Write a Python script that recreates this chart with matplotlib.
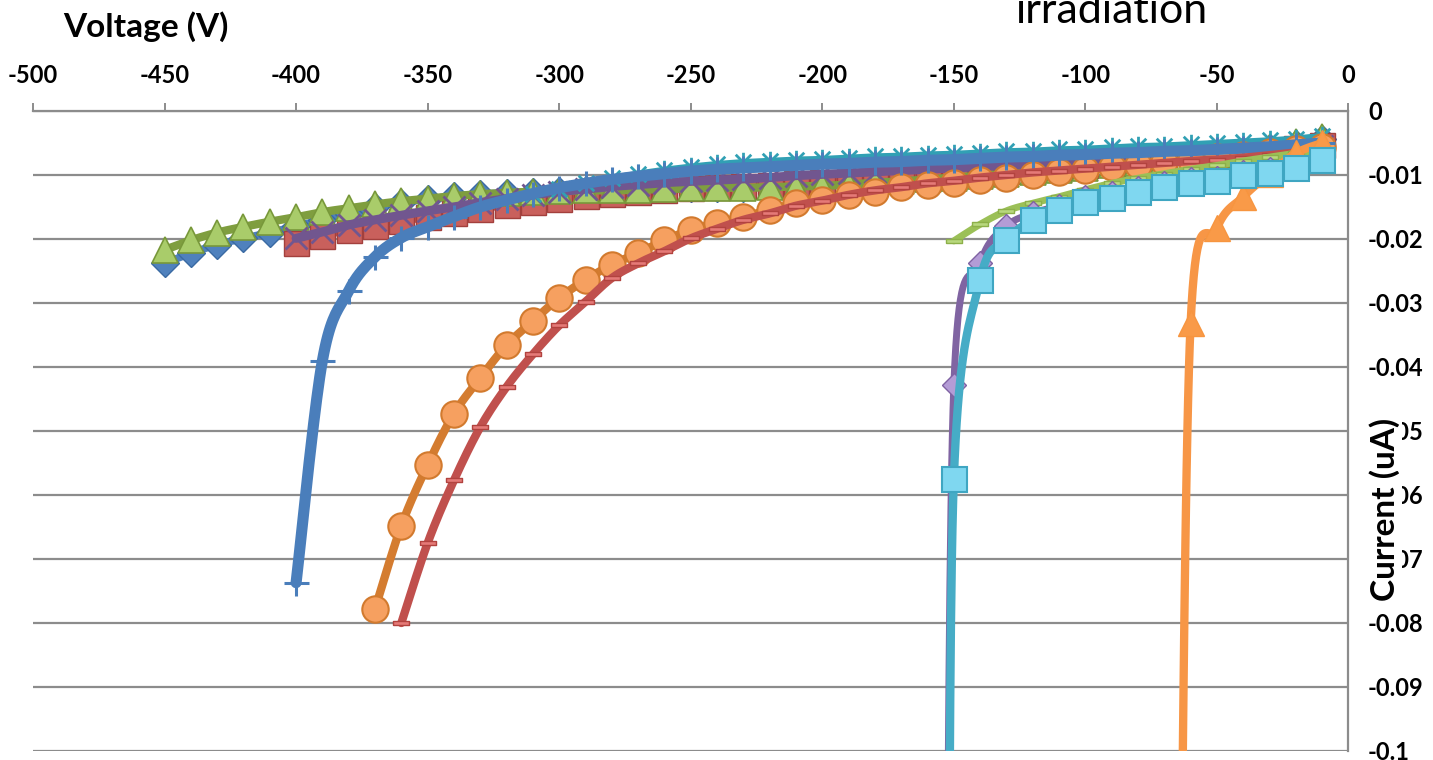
import numpy as np
import matplotlib
matplotlib.use("Agg")
import matplotlib.pyplot as plt
from matplotlib.path import Path

plt.rcParams['font.family'] = ['Lato', 'DejaVu Sans']

# ---------------- data ----------------
volt_450 = [-450, -440, -430, -420, -410, -400, -390, -380, -370, -360, -350, -340, -330, -320, -310,
            -300, -290, -280, -270, -260, -250, -240, -230, -220, -210, -200, -190, -180, -170, -160,
            -150, -140, -130, -120, -110, -100, -90, -80, -70, -60, -50, -40, -30, -20, -10]
volt_400 = [-400, -390, -380, -370, -360, -350, -340, -330, -320, -310,
            -300, -290, -280, -270, -260, -250, -240, -230, -220, -210, -200, -190, -180, -170, -160,
            -150, -140, -130, -120, -110, -100, -90, -80, -70, -60, -50, -40, -30, -20, -10]
volt_370 = [-370, -360, -350, -340, -330, -320, -310,
            -300, -290, -280, -270, -260, -250, -240, -230, -220, -210, -200, -190, -180, -170, -160,
            -150, -140, -130, -120, -110, -100, -90, -80, -70, -60, -50, -40, -30, -20, -10]
volt_360 = [-360, -350, -340, -330, -320, -310,
            -300, -290, -280, -270, -260, -250, -240, -230, -220, -210, -200, -190, -180, -170, -160,
            -150, -140, -130, -120, -110, -100, -90, -80, -70, -60, -50, -40, -30, -20, -10]
volt_310 = [-310, -300, -290, -280, -270, -260, -250, -240, -230, -220, -210, -200, -190, -180, -170, -160,
            -150, -140, -130, -120, -110, -100, -90, -80, -70, -60, -50, -40, -30, -20, -10]
volt_150 = [-150, -140, -130, -120, -110, -100, -90, -80, -70, -60, -50, -40, -30, -20, -10]
volt_s10 = [-153, -150, -140, -130, -120, -110, -100, -90, -80, -70, -60, -50, -40, -30, -20, -10]
volt_s11 = [-152, -150, -140, -130, -120, -110, -100, -90, -80, -70, -60, -50, -40, -30, -20, -10]
volt_s12 = [-64, -60, -50, -40, -30, -20, -10]

cur_s1 = [-0.0238, -0.0222, -0.0209, -0.0199, -0.0190, -0.0180, -0.0170, -0.0161, -0.0150, -0.0143,
          -0.0138, -0.0133, -0.0130, -0.0128, -0.0126, -0.0125, -0.0124, -0.0124, -0.0123, -0.0122,
          -0.0121, -0.0120, -0.0120, -0.0119, -0.0118, -0.0117, -0.0115, -0.0112, -0.0110, -0.0107,
          -0.0104, -0.0101, -0.0098, -0.0095, -0.0092, -0.0089, -0.0085, -0.0081, -0.0077, -0.0073,
          -0.0068, -0.0063, -0.0058, -0.0051, -0.0044]
cur_s2 = [-0.0206, -0.0195, -0.0186, -0.0179, -0.0172, -0.0166, -0.0160, -0.0153, -0.0147, -0.0142,
          -0.0137, -0.0133, -0.0130, -0.0127, -0.0124, -0.0121, -0.0119, -0.0117, -0.0115, -0.0113,
          -0.0111, -0.0109, -0.0107, -0.0105, -0.0102, -0.0099, -0.0096, -0.0093, -0.0090, -0.0087,
          -0.0084, -0.0081, -0.0078, -0.0075, -0.0072, -0.0069, -0.0066, -0.0062, -0.0058, -0.0053]
cur_s3 = [-0.0217, -0.0202, -0.0190, -0.0181, -0.0173, -0.0166, -0.0158, -0.0152, -0.0146, -0.0141,
          -0.0137, -0.0133, -0.0130, -0.0128, -0.0126, -0.0125, -0.0124, -0.0124, -0.0123, -0.0122,
          -0.0121, -0.0120, -0.0120, -0.0119, -0.0118, -0.0117, -0.0115, -0.0112, -0.0110, -0.0107,
          -0.0104, -0.0101, -0.0098, -0.0095, -0.0092, -0.0089, -0.0085, -0.0081, -0.0077, -0.0073,
          -0.0068, -0.0063, -0.0057, -0.0049, -0.0040]
cur_s4 = [-0.0199, -0.0189, -0.0178, -0.0170, -0.0163, -0.0156, -0.0150, -0.0143, -0.0137, -0.0131,
          -0.0126, -0.0122, -0.0118, -0.0115, -0.0112, -0.0110, -0.0108, -0.0106, -0.0104, -0.0101,
          -0.0099, -0.0097, -0.0095, -0.0093, -0.0091, -0.0089, -0.0087, -0.0085, -0.0083, -0.0081,
          -0.0079, -0.0077, -0.0075, -0.0073, -0.0071, -0.0069, -0.0067, -0.0064, -0.0060, -0.0055]
cur_s5 = [-0.0130, -0.0122, -0.0113, -0.0105, -0.0098, -0.0092, -0.0087, -0.0083, -0.0080, -0.0078,
          -0.0076, -0.0075, -0.0073, -0.0071, -0.0070, -0.0068, -0.0067, -0.0065, -0.0063, -0.0062,
          -0.0060, -0.0059, -0.0057, -0.0055, -0.0054, -0.0052, -0.0050, -0.0048, -0.0046, -0.0043,
          -0.0039]
cur_s6 = [-0.0778, -0.0648, -0.0553, -0.0473, -0.0417, -0.0366, -0.0328, -0.0292, -0.0264, -0.0240,
          -0.0222, -0.0202, -0.0186, -0.0175, -0.0165, -0.0155, -0.0144, -0.0139, -0.0131, -0.0126,
          -0.0119, -0.0116, -0.0112, -0.0108, -0.0104, -0.0100, -0.0096, -0.0092, -0.0088, -0.0084,
          -0.0080, -0.0077, -0.0072, -0.0068, -0.0064, -0.0060, -0.0056]
cur_s7 = [-0.0737, -0.0390, -0.0281, -0.0228, -0.0198, -0.0181, -0.0165, -0.0150, -0.0139, -0.0129,
          -0.0120, -0.0113, -0.0107, -0.0102, -0.0098, -0.0094, -0.0091, -0.0089, -0.0087, -0.0085,
          -0.0083, -0.0082, -0.0080, -0.0079, -0.0077, -0.0076, -0.0074, -0.0072, -0.0071, -0.0069,
          -0.0068, -0.0066, -0.0065, -0.0063, -0.0062, -0.0060, -0.0058, -0.0056, -0.0053, -0.0050]
cur_s8 = [-0.0800, -0.0675, -0.0577, -0.0494, -0.0431, -0.0380, -0.0335, -0.0298, -0.0261, -0.0238,
          -0.0219, -0.0199, -0.0184, -0.0170, -0.0160, -0.0148, -0.0140, -0.0131, -0.0124, -0.0119,
          -0.0113, -0.0109, -0.0104, -0.0100, -0.0096, -0.0093, -0.0090, -0.0087, -0.0084, -0.0081,
          -0.0078, -0.0076, -0.0073, -0.0069, -0.0065, -0.0060]
cur_s9 = [-0.0203, -0.0177, -0.0156, -0.0144, -0.0134, -0.0123, -0.0113, -0.0105, -0.0098, -0.0091,
          -0.0085, -0.0078, -0.0072, -0.0066, -0.0060]
cur_s10 = [-0.1600, -0.0428, -0.0238, -0.0180, -0.0160, -0.0148, -0.0135, -0.0128, -0.0120, -0.0113,
           -0.0107, -0.0104, -0.0095, -0.0091, -0.0085, -0.0074]
cur_s11 = [-0.1600, -0.0575, -0.0264, -0.0202, -0.0170, -0.0155, -0.0142, -0.0136, -0.0127, -0.0119,
           -0.0112, -0.0110, -0.0100, -0.0097, -0.0089, -0.0077]
cur_s12 = [-0.1400, -0.0331, -0.0183, -0.0134, -0.0098, -0.0066, -0.0050]

x_ticks = [-500, -450, -400, -350, -300, -250, -200, -150, -100, -50, 0]
x_ticklabels = ['-500', '-450', '-400', '-350', '-300', '-250', '-200', '-150', '-100', '-50', '0']
y_ticks = [0, -0.01, -0.02, -0.03, -0.04, -0.05, -0.06, -0.07, -0.08, -0.09, -0.1]
y_ticklabels = ['0', '-0.01', '-0.02', '-0.03', '-0.04', '-0.05', '-0.06', '-0.07', '-0.08', '-0.09', '-0.1']

# ---------------- figure ----------------
W, H = 1433, 760
fig = plt.figure(figsize=(W / 100, H / 100), dpi=100)
ax = fig.add_axes([33 / W, 1 - 751 / H, (1348.5 - 33) / W, (751 - 111) / H])
ax.set_xlim(-500, 0)
ax.set_ylim(-0.1, 0)

grid_c = '#8c8c8c'
ax.set_yticks(y_ticks)
ax.set_yticklabels(y_ticklabels)
ax.set_xticks(x_ticks)
ax.set_xticklabels(x_ticklabels)
ax.xaxis.tick_top()
ax.yaxis.tick_right()
ax.tick_params(axis='x', direction='out', length=6, width=1.4, color=grid_c, pad=11,
               labelsize=17)
ax.tick_params(axis='y', length=0, pad=14, labelsize=17)
for lab in ax.get_xticklabels() + ax.get_yticklabels():
    lab.set_fontweight('bold')
for lab in ax.get_yticklabels():
    lab.set_horizontalalignment('left')
ax.yaxis.grid(True, color=grid_c, linewidth=1.6)
ax.set_axisbelow(True)
for side in ['left', 'bottom']:
    ax.spines[side].set_visible(False)
for side in ['top', 'right']:
    ax.spines[side].set_color(grid_c)
    ax.spines[side].set_linewidth(1.6)


def smooth(xs, ys, n=20):
    pts = ax.transData.transform(np.column_stack([xs, ys]))
    P = np.vstack([pts[0], pts, pts[-1]])
    out = []
    t = np.linspace(0, 1, n, endpoint=False)[:, None]
    for i in range(1, len(P) - 2):
        p0, p1, p2, p3 = P[i - 1], P[i], P[i + 1], P[i + 2]
        b1 = p1 + (p2 - p0) / 6.0
        b2 = p2 - (p3 - p1) / 6.0
        seg = (1 - t) ** 3 * p1 + 3 * (1 - t) ** 2 * t * b1 + 3 * (1 - t) * t ** 2 * b2 + t ** 3 * p2
        out.append(seg)
    out.append(P[-2][None, :])
    curve = np.vstack(out)
    return ax.transData.inverted().transform(curve)


star = Path([(-1, -1), (1, 1), (-1, 1), (1, -1), (0, -1.25), (0, 1.25)],
            [Path.MOVETO, Path.LINETO, Path.MOVETO, Path.LINETO, Path.MOVETO, Path.LINETO])
dash = [(-1.6, -0.5), (1.6, -0.5), (1.6, 0.5), (-1.6, 0.5), (-1.6, -0.5)]

# drawing order follows the reference stacking
series = [
    # x, y, line colour, lw, marker, ms, face, edge, mew
    (volt_450, cur_s1, '#4F81BD', 5.5, 'D', 14, '#4F81BD', '#3A6AA3', 1.0),
    (volt_400, cur_s2, '#C0504D', 5.5, 's', 18, '#C9605C', '#A3403D', 1.0),
    (volt_450, cur_s3, '#7F9E3F', 6.0, '^', 19, '#A9CC6A', '#78983A', 1.2),
    (volt_400, cur_s4, '#71568F', 6.5, 'x', 16, 'none', '#71568F', 2.0),
    (volt_310, cur_s5, '#31A0B4', 4.5, star, 14, 'none', '#31A0B4', 2.0),
    (volt_370, cur_s6, '#D47C30', 6.0, 'o', 19, '#F6A060', '#D27A2E', 1.5),
    (volt_400, cur_s7, '#4A7EBB', 8.0, '+', 18, 'none', '#4A7EBB', 2.2),
    (volt_360, cur_s8, '#C0504D', 6.0, dash, 11, '#E57A78', '#B2433F', 1.0),
    (volt_150, cur_s9, '#9BC057', 5.0, dash, 11, '#B8D87E', '#8DB04A', 1.0),
    (volt_s10, cur_s10, '#8064A2', 5.0, 'D', 12, '#B49CD6', '#7F62A3', 1.0),
    (volt_s12, cur_s12, '#F79646', 6.0, '^', 19, '#F99A48', '#F7953F', 1.0),
    (volt_s11, cur_s11, '#46ACC6', 6.0, 's', 18, '#7FD7F0', '#3FA6C2', 1.5),
]

z = 2.0
for (xs, ys, lc, lw, mk, ms, fc, ec, mew) in series:
    c = smooth(xs, ys)
    ax.plot(c[:, 0], c[:, 1], color=lc, linewidth=lw, solid_capstyle='round',
            solid_joinstyle='round', zorder=z)
    ax.plot(xs, ys, linestyle='none', marker=mk, markersize=ms, markerfacecolor=fc,
            markeredgecolor=ec, markeredgewidth=mew, zorder=z + 0.05)
    z += 0.1

# ---------------- texts ----------------
fig.text(146 / W, 1 - 27 / H, 'Voltage (V)', fontsize=24, fontweight='bold',
         ha='center', va='center')
fig.text(1385 / W, 1 - 509 / H, 'Current (uA)', fontsize=24, fontweight='bold',
         ha='center', va='center', rotation=90, zorder=20,
         bbox=dict(facecolor='white', edgecolor='none', pad=1))
fig.text(1112 / W, 1 - 23 / H, 'irradiation', fontsize=31, ha='center', va='baseline')

fig.savefig('out.png', dpi=100)
